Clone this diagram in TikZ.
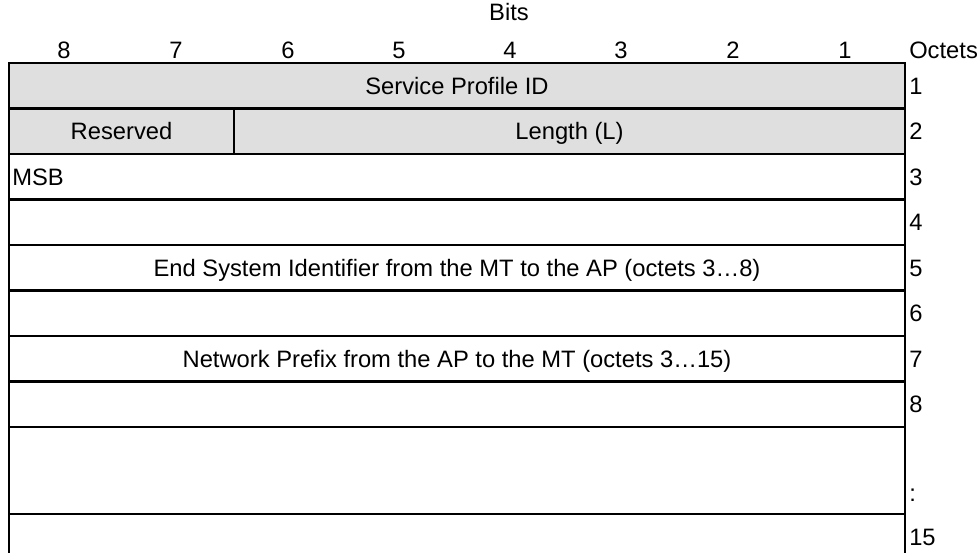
\documentclass[tikz,border=0pt]{standalone}
\usepackage{fontspec}
\setmainfont{Liberation Sans}
\begin{document}
\begin{tikzpicture}[x=0.75pt,y=-0.75pt,
  frame/.style={line width=1.6pt},
  txt/.style={font=\fontsize{17.8}{20}\selectfont, inner sep=0pt,
              text height=12.75pt, text depth=0pt},
  cell/.style={txt},
  octet/.style={txt, anchor=west},
  bit/.style={txt}]
\useasboundingbox (0,0) rectangle (980,553);
\definecolor{hdrgray}{RGB}{223,223,223}
% shaded header rows
\fill[hdrgray] (9,63) rectangle (905,154);
% horizontal rules
\foreach \y in {63,108.5,154,199.5,245,290.5,336,381.5,427,514}
  \draw[frame] (9,\y) -- (905,\y);
% outer verticals (table continues past the lower edge)
\draw[frame] (9,62.2) -- (9,553);
\draw[frame] (905,62.2) -- (905,553);
% reserved / length divider
\draw[frame] (234,108.5) -- (234,154);
% header
\node[bit] (bits) at (509,12) {Bits};
\foreach \b/\x in {8/64,7/176,6/288,5/399,4/510,3/621,2/733,1/845}
  \node[bit] (b\b) at (\x,49.5) {\b};
\node[octet] (oct) at (909,49.5) {Octets};
% field labels
\node[cell] (spid) at (457,86) {Service Profile ID};
\node[cell] (res) at (121.5,131) {Reserved};
\node[cell] (len) at (569.5,131) {Length (L)};
\node[cell, anchor=west] (msb) at (12,177) {MSB};
\node[cell] (esi) at (457,268) {End System Identifier from the MT to the AP (octets 3…8)};
\node[cell] (np) at (457,359) {Network Prefix from the AP to the MT (octets 3…15)};
% octet numbers
\foreach \n/\y in {1/86,2/131,3/177,4/222,5/268,6/313,7/359,8/404,15/537}
  \node[octet] (o\n) at (909,\y) {\n};
\node[octet] (odots) at (909,493) {:};
\end{tikzpicture}
\end{document}
